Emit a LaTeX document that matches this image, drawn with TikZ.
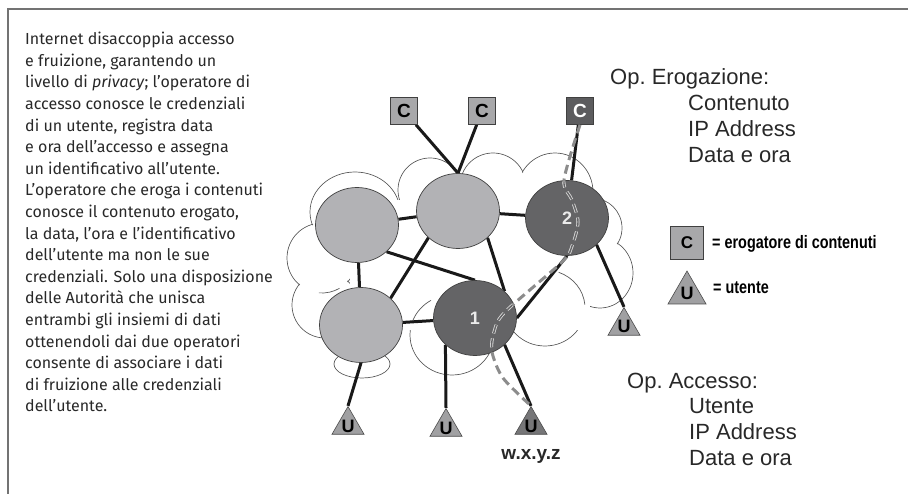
\documentclass[tikz,border=0pt]{standalone}
\usepackage{fontspec}
\setmainfont{Fira Sans}
\setsansfont{Liberation Sans}
\newfontfamily\narrowfont{Liberation Sans}[FakeStretch=0.8]
\usetikzlibrary{shapes.geometric}
\pgfdeclarelayer{bg}
\pgfsetlayers{bg,main}

\definecolor{retechiaro}{RGB}{178,178,181}
\definecolor{retescuro}{RGB}{100,100,102}
\definecolor{boxchiaro}{RGB}{168,168,170}
\definecolor{boxscuro}{RGB}{92,92,94}
\definecolor{trichiaro}{RGB}{160,160,162}
\definecolor{triscuro}{RGB}{118,118,120}
\definecolor{testo}{RGB}{40,40,40}

\tikzset{
  nuvola/.style={draw=black!65, line width=0.7pt},
  nodochiaro/.style={ellipse, draw=black!75, fill=retechiaro, line width=0.7pt,
    minimum width=83pt, minimum height=75pt, inner sep=0pt},
  nodoscuro/.style={nodochiaro, fill=retescuro, text=white!92!black,
    font=\sffamily\bfseries\fontsize{18}{18}\selectfont},
  server/.style={draw=black!75, fill=boxchiaro, line width=0.6pt, minimum size=27pt,
    inner sep=0pt, font=\sffamily\bfseries\fontsize{19}{19}\selectfont},
  utente/.style={regular polygon, regular polygon sides=3, draw=black!70, fill=trichiaro,
    line width=0.6pt, minimum size=37pt, inner sep=0pt,
    font=\sffamily\bfseries\fontsize{18}{18}\selectfont},
  link/.style={line width=3pt, black!90},
  percorso/.style={line width=3pt, dash pattern=on 9pt off 5pt},
  etichetta/.style={font=\sffamily\fontsize{22}{26}\selectfont, text=testo,
    align=left, inner sep=0pt},
  legenda/.style={font=\narrowfont\bfseries\fontsize{18}{18}\selectfont, text=black,
    inner sep=0pt},
}
\newcommand{\lettU}{\raisebox{-7pt}[0pt][0pt]{U}}

\begin{document}
\begin{tikzpicture}[x=1pt,y=-1pt]
  \useasboundingbox (0,0) rectangle (908,494);
  % cornice
  \draw[black!55, line width=1.3pt] (8,494) -- (8,9) -- (908,9);

  % testo
  \node[anchor=north west, inner sep=0pt, align=left, text=testo,
        font=\fontsize{16}{21.6}\selectfont] (descr) at (25,32)
  {Internet disaccoppia accesso\\
   e fruizione, garantendo un\\
   livello di \emph{privacy}; l’operatore di\\
   accesso conosce le credenziali\\
   di un utente, registra data\\
   e ora dell’accesso e assegna\\
   un identificativo all’utente.\\
   L’operatore che eroga i contenuti\\
   conosce il contenuto erogato,\\
   la data, l’ora e l’identificativo\\
   dell’utente ma non le sue\\
   credenziali. Solo una disposizione\\
   delle Autorità che unisca\\
   entrambi gli insiemi di dati\\
   ottenendoli dai due operatori\\
   consente di associare i dati\\
   di fruizione alle credenziali\\
   dell’utente.};

  % nuvola
  \begin{pgfonlayer}{bg}
    \foreach \cx/\cy/\rx/\ry in {355/212/45/40, 430/190/32/32, 493/186/33/33,
        555/192/38/39, 592/228/30/30, 600/273/33/35, 545/308/40/38, 452/335/42/40,
        322/258/35/35, 325/305/33/33, 362/364/28/14}
      \draw[nuvola] (\cx,\cy) ellipse [x radius=\rx, y radius=\ry];
    \foreach \cx/\cy/\rx/\ry in {355/212/45/40, 430/190/32/32, 493/186/33/33,
        555/192/38/39, 592/228/30/30, 600/273/33/35, 545/308/40/38, 452/335/42/40,
        322/258/35/35, 325/305/33/33, 362/364/28/14}
      \fill[white] (\cx,\cy) ellipse [x radius=\rx-0.9, y radius=\ry-0.9];
    \fill[white] (350,200) rectangle (590,330);
    % archi interni
    \draw[nuvola] (545,308) ++(-70:40 and 38) arc[start angle=-70, end angle=-5, x radius=40, y radius=38];
    \draw[nuvola] (322,258) ++(60:35) arc[start angle=60, end angle=95, radius=35];
    \draw[nuvola] (452,335) ++(200:42 and 40) arc[start angle=200, end angle=240, x radius=42, y radius=40];
  \end{pgfonlayer}

  % nodi della rete
  \node[nodochiaro] (L1) at (357,225) {};
  \node[nodochiaro] (L2) at (458,211) {};
  \node[nodoscuro]  (D2) at (567,218) {2};
  \node[nodochiaro] (L3) at (361,325) {};
  \node[nodoscuro]  (D1) at (475,318) {1};

  % erogatori
  \node[server] (C1) at (404,111) {C};
  \node[server] (C2) at (482,111) {C};
  \node[server, fill=boxscuro, text=white] (C3) at (580,111) {C};

  % utenti
  \node[utente] (U1) at (348,425) {\lettU};
  \node[utente] (U2) at (446,427) {\lettU};
  \node[utente, fill=triscuro] (U3) at (531,425) {\lettU};
  \node[utente] (U4) at (624,326) {\lettU};
  \node[font=\sffamily\bfseries\fontsize{19}{19}\selectfont, text=testo] (ip) at (531,456) {w.x.y.z};

  % collegamenti
  \begin{pgfonlayer}{bg}
    \draw[link] (C1) -- (L2.north);
    \draw[link] (C2) -- (L2.north);
    \draw[link] (C3) -- (D2);
    \draw[link] (L1) -- (L2);
    \draw[link] (L2) -- (D2);
    \draw[link] (L1) -- (L3);
    \draw[link] (L1.south east) -- (D1.north);
    \draw[link] (L2.south west) -- (L3.north east);
    \draw[link] (L2.south east) -- (D1.north east);
    \draw[link] (L3) -- (D1);
    \draw[link] (D1.east) -- (D2.south);
    \draw[link] (D2.south east) -- (U4.corner 1);
    \draw[link] (L3.south) -- (U1.corner 1);
    \draw[link] (D1.south west) -- (U2.corner 1);
    \draw[link] (D1.south east) -- (U3.corner 1);
  \end{pgfonlayer}

  % percorso tratteggiato
  \draw[percorso, black!45] plot[smooth, tension=0.5] coordinates {(C3.south) (564,180)
    (572,200) (578,222) (572,246) (562,262) (505,312) (494,332) (492,352) (503,378)
    (U3.corner 1)};
  \begin{scope}
    \clip (D2.center) ellipse [x radius=40, y radius=36.5]
          (D1.center) ellipse [x radius=40, y radius=36.5];
    \draw[percorso, white!85!black] plot[smooth, tension=0.5] coordinates {(C3.south)
      (564,180) (572,200) (578,222) (572,246) (562,262) (505,312) (494,332) (492,352)
      (503,378) (U3.corner 1)};
    \draw[percorso, line width=1.4pt, retescuro] plot[smooth, tension=0.5] coordinates
      {(C3.south) (564,180) (572,200) (578,222) (572,246) (562,262) (505,312) (494,332)
      (492,352) (503,378) (U3.corner 1)};
  \end{scope}

  % operatori
  \node[etichetta, anchor=north west] (erog) at (610,68) {Op.\ Erogazione:};
  \node[etichetta, anchor=north west] (erogdati) at (688,95) {Contenuto\\IP Address\\Data e ora};
  \node[etichetta, anchor=north west] (acc) at (627,373) {Op.\ Accesso:};
  \node[etichetta, anchor=north west] (accdati) at (689,398) {Utente\\IP Address\\Data e ora};

  % legenda
  \node[server, minimum size=33pt, font=\sffamily\bfseries\fontsize{17}{17}\selectfont] (legC) at (687,243) {C};
  \node[legenda, anchor=west] (legCtxt) at (712,244) {= erogatore di contenuti};
  \node[utente, minimum size=44pt] (legU) at (687,293) {\lettU};
  \node[legenda, anchor=west] (legUtxt) at (713,288) {= utente};
\end{tikzpicture}
\end{document}
